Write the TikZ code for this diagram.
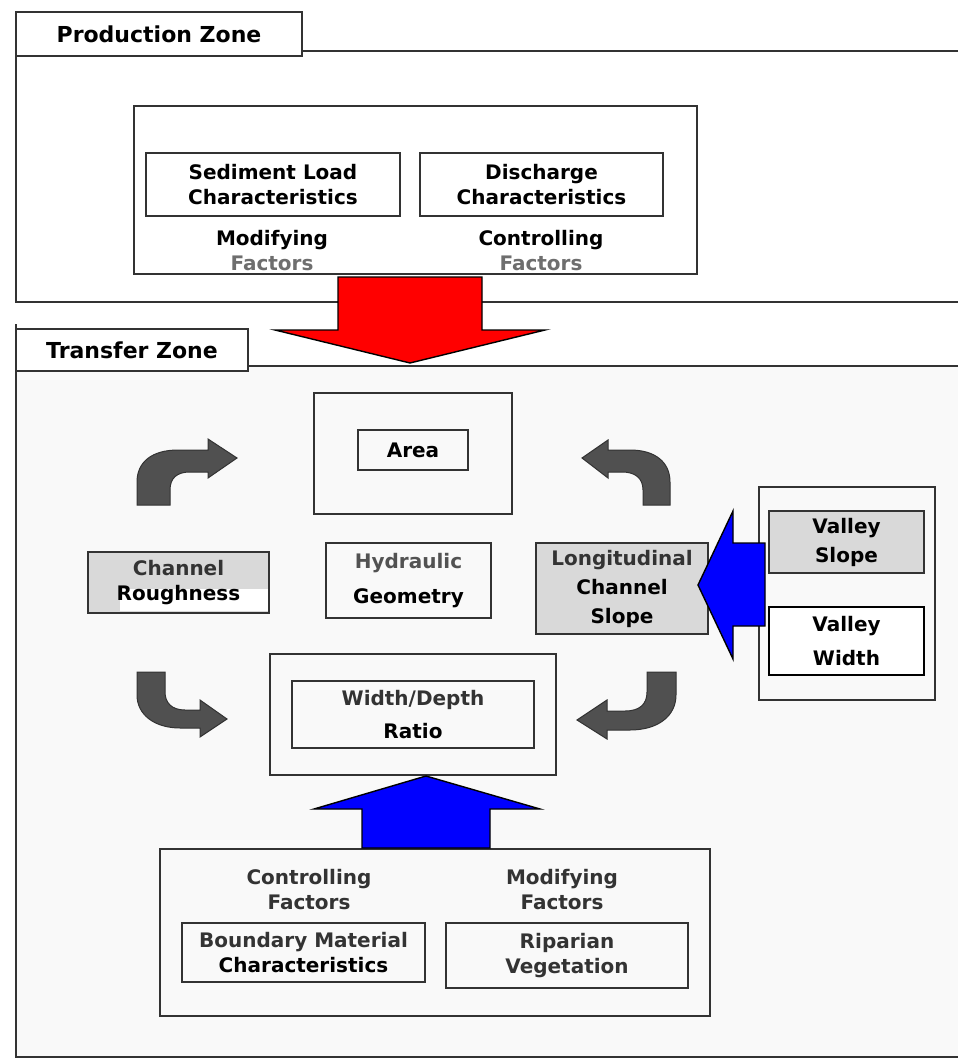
\documentclass[tikz,border=0pt]{standalone}
\usepackage{fontspec}
\setmainfont{DejaVu Sans}
\usetikzlibrary{calc}

\definecolor{boxgray}{HTML}{D9D9D9}
\definecolor{linegray}{HTML}{333333}
\definecolor{bendgray}{HTML}{505050}
\definecolor{facgray}{HTML}{6E6E6E}
\definecolor{zonebg}{HTML}{F9F9F9}

\begin{document}
\begin{tikzpicture}[
                x=1pt,y=-1pt,
                line width=1.6pt,
                font=\bfseries\fontsize{20}{25}\selectfont,
                box/.style={draw=linegray,align=center,inner sep=0pt},
                gbox/.style={box,fill=boxgray},
                lbl/.style={align=center,inner sep=0pt},
                blockred/.style={draw=black,line width=1.4pt,fill=red},
                blockblue/.style={draw=black,line width=1.4pt,fill=blue},
                bentarrow/.style={draw=linegray,line width=1pt,fill=bendgray}] %

\useasboundingbox (0,0) rectangle (958,1059);

% production zone


                    % 1
                    \draw[linegray] (958,51) -- (16,51) -- (16,302) -- (958,302);
                    \node[box,fill=white,minimum width=286pt,minimum height=44pt,font=\bfseries\fontsize{22}{25}\selectfont] (PZ) at (159,34) {Production Zone};

                    % 2
                    \node[box,minimum width=563pt,minimum height=168pt] (PROD) at (415.5,190) {};
                    \node[box,minimum width=254pt,minimum height=63pt] (SEDL) at (273,184.5) {Sediment Load\\Characteristics};
                    \node[box,minimum width=243pt,minimum height=63pt] (DISCH) at (541.5,184.5) {Discharge\\Characteristics};
                    \node[lbl] (MODP) at (272,251) {Modifying\\\textcolor{facgray}{Factors}};
                    \node[lbl] (CONP) at (541,251) {Controlling\\\textcolor{facgray}{Factors}};


% transfer zone


                    % 1
                    \fill[zonebg] (16,366) rectangle (958,1057);
                    \draw[linegray] (958,366) -- (16,366);
                    \draw[linegray] (16,324) -- (16,1057) -- (958,1057);
                    \node[box,fill=white,minimum width=232pt,minimum height=42pt,font=\bfseries\fontsize{22}{25}\selectfont] (TZ) at (132,350) {Transfer Zone};

                    % 2
                    \coordinate (REDTIP) at (410,363);
                    \draw[blockred] (REDTIP) -- ++(135,-33) -- ++(-63,0) -- ++(0,-53) -- ++(-144,0) -- ++(0,53) -- ++(-63,0) -- cycle;

                    % 3
                    \node[box,minimum width=198pt,minimum height=121pt] (AREAO) at (413,453.5) {};
                    \node[box,minimum width=110pt,minimum height=40pt] (AREA) at (413,450) {Area};

                    % 4
                    \node[gbox,minimum width=181pt,minimum height=61pt,
                          path picture={\fill[white] ($(path picture bounding box.south west)+(32,-2)$) rectangle ($(path picture bounding box.south east)+(0,-24)$);}]
                          (CHR) at (178.5,582.5) {\textcolor{linegray}{Channel}\\Roughness};
                    \node[box,minimum width=165pt,minimum height=75pt] (HYDG) at (408.5,580.5) {\textcolor{linegray!85}{Hydraulic}\\[10pt]Geometry};
                    \node[gbox,minimum width=172pt,minimum height=91pt] (LCS) at (622,588.5) {\textcolor{linegray}{Longitudinal}\\[4pt]Channel\\[4pt]Slope};

                    % 5
                    \node[box,minimum width=176pt,minimum height=213pt] (VALLEY) at (847,593.5) {};
                    \node[gbox,minimum width=155pt,minimum height=62pt] (VSLOPE) at (846.5,542) {Valley\\[4pt]Slope};
                    \node[box,draw=black,line width=2.6pt,fill=white,minimum width=155pt,minimum height=68pt] (VWIDTH) at (846.5,641) {Valley\\[9pt]Width};
                    \coordinate (BLUETIPA) at (698,585);
                    \draw[blockblue] (BLUETIPA) -- ++(35,-74) -- ++(0,32) -- ++(32,0) -- ++(0,83) -- ++(-32,0) -- ++(0,33) -- cycle;

                    % 6
                    \node[box,minimum width=286pt,minimum height=121pt] (WDO) at (413,714.5) {};
                    \node[box,minimum width=242pt,minimum height=67pt] (WD) at (413,714.5) {\textcolor{linegray}{Width/Depth}\\[8pt]Ratio};

                    % 7
                    \node[box,minimum width=550pt,minimum height=167pt] (BFAC) at (435,932.5) {};
                    \node[lbl,text=linegray] (CONB) at (309,890) {Controlling\\Factors};
                    \node[lbl,text=linegray] (MODB) at (562,890) {Modifying\\Factors};
                    \node[box,minimum width=243pt,minimum height=59pt] (BMAT) at (303.5,952.5) {\textcolor{linegray}{Boundary Material}\\Characteristics};
                    \node[box,minimum width=242pt,minimum height=65pt,text=linegray] (RIPV) at (567,955.5) {Riparian\\Vegetation};
                    \coordinate (BLUETIPB) at (426,776);
                    \draw[blockblue] (BLUETIPB) -- ++(114,33) -- ++(-50,0) -- ++(0,39) -- ++(-128,0) -- ++(0,-39) -- ++(-48,0) -- cycle;


% bent arrows


                    \filldraw[bentarrow] (137,505) -- (137,482) .. controls (137,462) and (152,450) .. (178,450) -- (208,450) -- (208,439) -- (237,458) -- (208,478) -- (208,472) -- (190,472) .. controls (177,472) and (170,478) .. (170,490) -- (170,505) -- cycle;
                    \filldraw[bentarrow] (670,505) -- (670,482) .. controls (670,462) and (655,450) .. (630,450) -- (608,450) -- (608,440) -- (582,458) -- (608,478) -- (608,472) -- (622,472) .. controls (635,472) and (643,478) .. (643,490) -- (643,505) -- cycle;
                    \filldraw[bentarrow] (137,672) -- (165,672) -- (165,692) .. controls (165,703) and (172,710) .. (185,710) -- (200,710) -- (200,700) -- (227,719) -- (200,737) -- (200,728) -- (180,728) .. controls (155,728) and (137,715) .. (137,695) -- cycle;
                    \filldraw[bentarrow] (676,672) -- (647,672) -- (647,692) .. controls (647,704) and (640,711) .. (625,711) -- (607,711) -- (607,700) -- (577,720) -- (607,739) -- (607,730) -- (630,730) .. controls (658,730) and (676,716) .. (676,695) -- cycle;


%%%%%%%%%%%%%%%%%%%%%%%%%%%%%%%%%%%%%%%%%%%%%%%%%%%%%%%%%%%%%%%%%%%%%%%%%%%%%%%%%%%%


\end{tikzpicture}
\end{document}
